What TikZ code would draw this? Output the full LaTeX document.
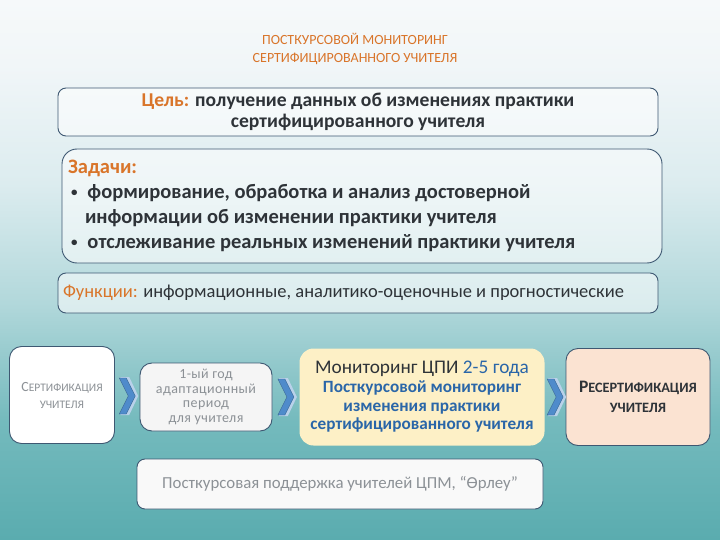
\documentclass[tikz,border=0pt]{standalone}
\usepackage{fontspec}
\setmainfont{Carlito}
\usetikzlibrary{calc}
\definecolor{orng}{HTML}{D9752A}
\definecolor{frame}{HTML}{3E5872}
\definecolor{txt}{HTML}{2E3338}
\definecolor{gry}{HTML}{8C9196}
\definecolor{blu}{HTML}{2A66A8}
\definecolor{chev}{HTML}{4F8BCB}
\definecolor{yel}{HTML}{FDF0C6}
\definecolor{peach}{HTML}{FBE3D2}
\definecolor{bg1}{HTML}{5AACAF}
\definecolor{bg2}{HTML}{74BABD}
\definecolor{bg3}{HTML}{B2D8DB}
\definecolor{bg4}{HTML}{DCECEF}
\definecolor{bg5}{HTML}{F1F6F8}
\definecolor{bg6}{HTML}{F6F9FA}
\pgfdeclareverticalshading{slidebg}{100bp}{color(0bp)=(bg1);
  color(25bp)=(bg1);color(36bp)=(bg2);color(47bp)=(bg3);color(58bp)=(bg4);color(69bp)=(bg5);color(75bp)=(bg6);color(100bp)=(bg6)}
\begin{document}
\begin{tikzpicture}[x=1pt,y=-1pt,
  every node/.style={execute at begin node={\spaceskip=0pt\xspaceskip=0pt}},
  box/.style={draw=frame,line width=0.9pt,rounded corners=8pt,fill=white,fill opacity=0.55,text opacity=1},
  card/.style={draw=frame,line width=0.9pt,rounded corners=12pt,fill=white,text opacity=1}]
% background
\shade[shading=slidebg] (0,0) rectangle (720,540);
\useasboundingbox (0,0) rectangle (720,540);
% title
\node[text=orng,font=\fontsize{14}{18}\selectfont,align=center] (title) at (355,49)
  {ПОСТКУРСОВОЙ МОНИТОРИНГ\\СЕРТИФИЦИРОВАННОГО УЧИТЕЛЯ};
% goal, tasks, functions
\node[box,minimum width=600,minimum height=48,align=center,text=txt,
  font=\bfseries\fontsize{19.6}{21}\selectfont] (goal) at (358,112)
  {{\color{orng}Цель:} получение данных об изменениях практики\\сертифицированного учителя};
\node[box,rounded corners=15pt,minimum width=600,minimum height=114,text width=588,align=left,text=txt,
  font=\bfseries\fontsize{20.5}{25}\selectfont] (tasks) at (362,206)
  {{\color{orng}Задачи:}\\
   \hspace*{3pt}{\fontsize{13}{13}\selectfont\raisebox{2pt}{•}}\hspace{10pt}формирование, обработка и анализ достоверной\\
   \hspace*{17pt}информации об изменении практики учителя\\
   \hspace*{3pt}{\fontsize{13}{13}\selectfont\raisebox{2pt}{•}}\hspace{10pt}отслеживание реальных изменений практики учителя};
\node[box,minimum width=600,minimum height=40,text width=590,align=left,text=txt,
  font=\fontsize{18.5}{20}\selectfont] (func) at (358,293)
  {{\color{orng}Функции:} информационные, аналитико-оценочные и прогностические};
% stages
\node[card,minimum width=105,minimum height=97,text=gry,align=center,
  font=\fontsize{11.5}{17}\selectfont] (cert) at (62,395)
  {{\fontsize{14}{17}\selectfont С}ЕРТИФИКАЦИЯ\\УЧИТЕЛЯ};
\node[card,fill=white!92!gray,minimum width=132,minimum height=68,text=gry,align=center,
  font=\addfontfeature{LetterSpace=3}\fontsize{14}{14.5}\selectfont] (adapt) at (206,397)
  {1-ый год\\адаптационный\\период\\для учителя};
\node[draw=none,rounded corners=14pt,fill=yel,minimum width=245,minimum height=97,text=blu,align=center,
  font=\bfseries\fontsize{17.2}{18.7}\selectfont] (mon) at (422,397)
  {{\mdseries\fontsize{19.3}{20}\selectfont\color{txt}Мониторинг ЦПИ \color{blu}2-5 года}\\[0pt]
   Посткурсовой мониторинг\\изменения практики\\сертифицированного учителя};
\node[card,fill=peach,minimum width=144,minimum height=97,text=txt,align=center,
  font=\bfseries\fontsize{14.3}{20}\selectfont] (recert) at (638,397)
  {{\fontsize{17.5}{20}\selectfont Р}ЕСЕРТИФИКАЦИЯ\\УЧИТЕЛЯ};
\node[card,rounded corners=8pt,fill=white!95!gray,minimum width=406,minimum height=50,text=gry,
  font=\fontsize{16.8}{17}\selectfont] (supp) at (340,484)
  {Посткурсовая поддержка учителей ЦПМ, “Өрлеу”};
% chevrons
\foreach \a/\b in {cert/adapt,adapt/mon,mon/recert}{
  \coordinate (m) at ($(\a.east)!0.5!(\b.west)$);
  \fill[chev!40!white] ($(m)+(-7,-19)$)--++(9,0)--++(9,19)--++(-9,19)--++(-9,0)--++(9,-19)--cycle;
  \filldraw[fill=chev,draw=chev!70!black,line width=0.4pt] ($(m)+(-8,-18)$)--++(7,0)--++(9,18)--++(-9,18)--++(-7,0)--++(9,-18)--cycle;
}
\end{tikzpicture}
\end{document}
